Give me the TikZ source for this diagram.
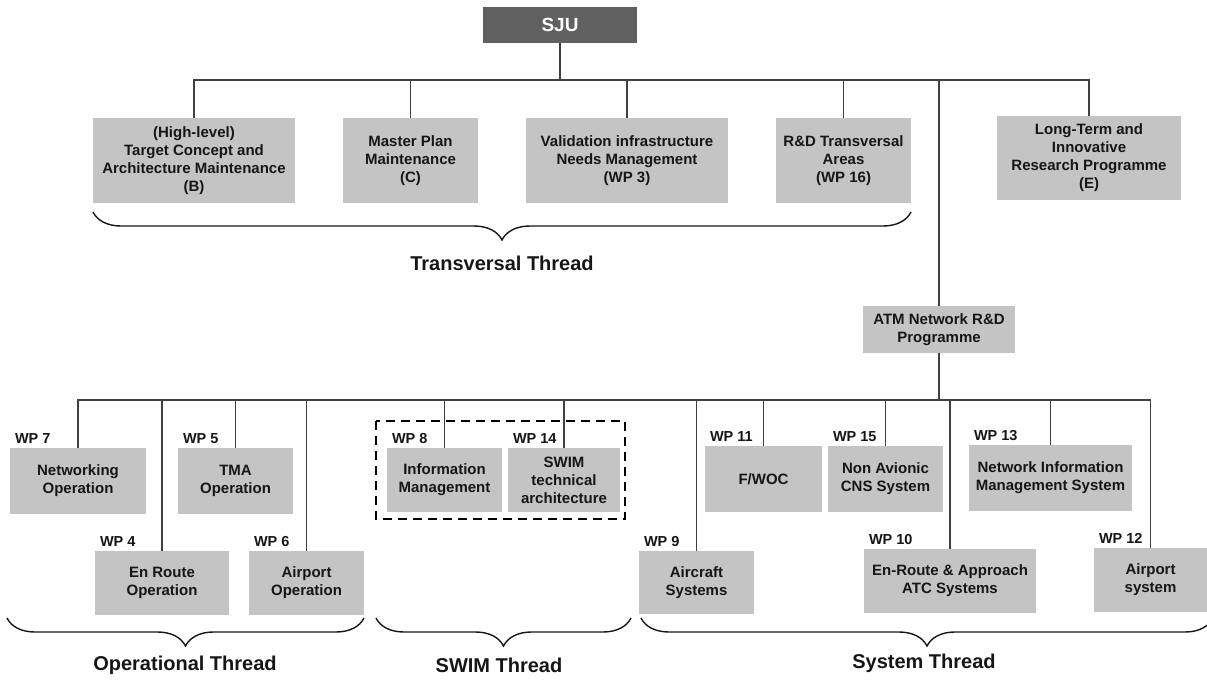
\documentclass[tikz,border=0pt]{standalone}
\usepackage{fontspec}
\setmainfont{Liberation Sans}
\usetikzlibrary{decorations.pathreplacing}
\definecolor{boxgray}{RGB}{196,196,196}
\definecolor{sjugray}{RGB}{96,96,96}
\definecolor{linegray}{RGB}{64,64,64}
\definecolor{inkgray}{RGB}{22,22,22}

\begin{document}
\begin{tikzpicture}
  [x=1pt,y=-1pt,
   every node/.style={font=\bfseries\fontsize{15}{18}\selectfont,text=inkgray,align=center,inner sep=0pt},
   box/.style 2 args={fill=boxgray,minimum width=#1,minimum height=#2},
   wplabel/.style={anchor=base west,font=\bfseries\fontsize{14.5}{16}\selectfont},
   thread/.style={font=\bfseries\fontsize{20}{22}\selectfont},
   bus/.style={draw=linegray,line width=1.8pt},
   swimbox/.style={draw=black,line width=2pt,dash pattern=on 9pt off 6pt},
   curly/.style={draw=inkgray,line width=1.4pt,decorate,decoration={brace,mirror,amplitude=28pt}}]
  \useasboundingbox (0,0) rectangle (1207,680);

  \node[fill=sjugray,text=white,font=\bfseries\fontsize{19}{20}\selectfont,
        minimum width=154pt,minimum height=36pt] (sju) at (560,25) {SJU};

  \node[box={202pt}{85pt}] (tb) at (194,160.5) {(High-level)\\Target Concept and\\Architecture Maintenance\\(B)};
  \node[box={135pt}{85pt}] (tc) at (410.5,160.5) {Master Plan\\Maintenance\\(C)};
  \node[box={202pt}{85pt}] (wp3) at (627,160.5) {Validation infrastructure\\Needs Management\\(WP 3)};
  \node[box={135pt}{85pt}] (wp16) at (843.5,160.5) {R\&D Transversal\\Areas\\(WP 16)};
  \node[box={184pt}{84pt}] (te) at (1089,158) {Long-Term and\\Innovative\\Research Programme\\(E)};
  \node[box={152pt}{47pt}] (atm) at (939,329.5) {ATM Network R\&D\\Programme};

  \node[box={136pt}{66pt}] (wp7) at (78,481) {Networking\\Operation};
  \node[box={115pt}{66pt}] (wp5) at (235.5,481) {TMA\\Operation};
  \node[box={134pt}{64pt}] (wp4) at (162,583) {En Route\\Operation};
  \node[box={115pt}{64pt}] (wp6) at (306.5,583) {Airport\\Operation};

  \node[box={115pt}{64pt}] (wp8) at (444.5,480) {Information\\Management};
  \node[box={112pt}{64pt}] (wp14) at (564,480) {SWIM\\technical\\architecture};

  \node[box={117pt}{66pt}] (wp11) at (763.5,479) {F/WOC};
  \node[box={115pt}{66pt}] (wp15) at (885.5,479) {Non Avionic\\CNS System};
  \node[box={163pt}{66pt}] (wp13) at (1050.5,478) {Network Information\\Management System};
  \node[box={115pt}{63pt}] (wp9) at (696.5,582.5) {Aircraft\\Systems};
  \node[box={172pt}{64pt}] (wp10) at (950,581) {En-Route \& Approach\\ATC Systems};
  \node[box={113pt}{64pt}] (wp12) at (1150.5,580) {Airport\\system};

  \foreach \n/\t in {wp7/WP 7,wp5/WP 5,wp4/WP 4,wp6/WP 6,wp8/WP 8,wp14/WP 14,
                     wp11/WP 11,wp15/WP 15,wp13/WP 13,wp9/WP 9,wp10/WP 10,wp12/WP 12}
    \node[wplabel] (l\n) at ([shift={(5,-4)}]\n.north west) {\t};

  \foreach \to in {tb,tc,wp3,wp16,atm,te}
    \draw[bus] (sju.south) -- ++(0,37) -| (\to.north);
  \foreach \to in {wp7,wp4,wp5,wp6,wp8,wp14,wp9,wp11,wp15,wp10,wp13,wp12}
    \draw[bus] (atm.south) -- ++(0,47) -| (\to.north);

  \draw[swimbox] (376,421) rectangle (625,519);

  \draw[curly] (93,212) -- (911,212);
  \draw[curly] (7,618) -- (364,618);
  \draw[curly] (376,618) -- (631,618);
  \draw[curly] (641,618) -- (1213,618);

  \node[thread] (tthread) at (502,263) {Transversal Thread};
  \node[thread] (othread) at (185,665) {Operational Thread};
  \node[thread] (swthread) at (499,665) {SWIM Thread};
  \node[thread] (sythread) at (924,663) {System Thread};

\end{tikzpicture}
\end{document}
